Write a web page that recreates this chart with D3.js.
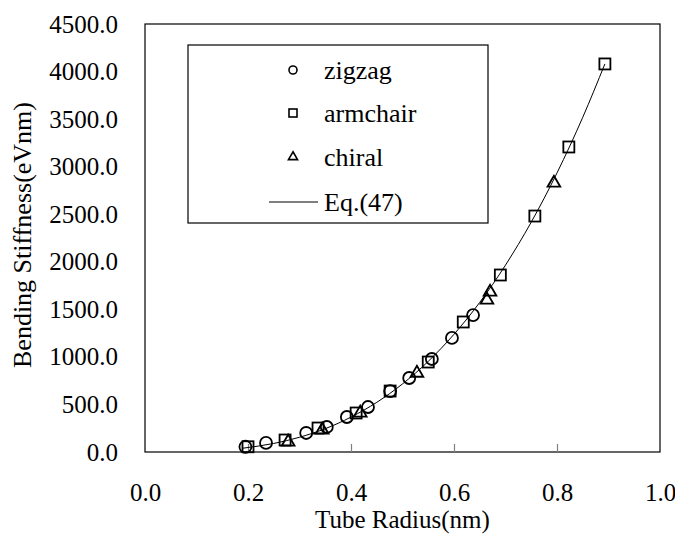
<!DOCTYPE html>
<html>
<head>
<meta charset="utf-8">
<script src="https://cdn.jsdelivr.net/npm/d3@7"></script>
<style>
  body { margin: 0; background: #fff; }
  svg text { font-family: "Liberation Serif", "Times New Roman", Times, "DejaVu Serif", serif; fill: #000; }
</style>
</head>
<body>
<div id="plot"></div>
<script>
// Data
var zigzagRadius = [0.195, 0.235, 0.313, 0.353, 0.392, 0.433, 0.476, 0.513, 0.557, 0.596, 0.637];
var zigzagStiffness = [55, 95, 200, 263, 368, 473, 641, 778, 978, 1199, 1440];

var armchairRadius = [0.200, 0.272, 0.336, 0.410, 0.476, 0.550, 0.618, 0.690, 0.757, 0.823, 0.893];
var armchairStiffness = [55, 126, 252, 410, 641, 946, 1367, 1861, 2481, 3207, 4080];

var chiralRadius = [0.278, 0.344, 0.418, 0.528, 0.664, 0.670, 0.794];
var chiralStiffness = [105, 231, 410, 830, 1598, 1682, 2828];

// Eq.(47) curve, sampled from the drawn line
var eqRadius = [0.19, 0.25, 0.30, 0.35, 0.40, 0.45, 0.50, 0.55, 0.60, 0.65, 0.70, 0.75, 0.80, 0.85, 0.893];
var eqStiffness = [40, 90, 155, 245, 367, 522, 716, 953, 1238, 1573, 1965, 2417, 2934, 3519, 4080];

var xTicks = [0.0, 0.2, 0.4, 0.6, 0.8, 1.0];
var yTicks = [0, 500, 1000, 1500, 2000, 2500, 3000, 3500, 4000, 4500];

var seriesNames = ["zigzag", "armchair", "chiral", "Eq.(47)"];

var serif = "Liberation Serif, Times New Roman, Times, DejaVu Serif, serif";

// SVG area
var svgWidth = 675;
var svgHeight = 534;

var margin = { top: 24, right: 15, bottom: 82, left: 145 };
var chartWidth = svgWidth - margin.left - margin.right;
var chartHeight = svgHeight - margin.top - margin.bottom;

var svg = d3.select("#plot")
  .append("svg")
  .attr("width", svgWidth)
  .attr("height", svgHeight)
  .attr("font-family", serif);

var chartGroup = svg.append("g")
  .attr("transform", `translate(${margin.left}, ${margin.top})`);

var xScale = d3.scaleLinear().domain([0, 1]).range([0, chartWidth]);
var yScale = d3.scaleLinear().domain([0, 4500]).range([chartHeight, 0]);

// plot frame
chartGroup.append("rect")
  .attr("x", 0).attr("y", 0)
  .attr("width", chartWidth).attr("height", chartHeight)
  .attr("fill", "none")
  .attr("stroke", "#000")
  .attr("stroke-width", 1.2);

// x axis: inward gray ticks, labels below
var bottomAxis = d3.axisBottom(xScale)
  .tickValues(xTicks)
  .tickSize(-8)
  .tickPadding(31)
  .tickFormat(d3.format(".1f"));

var xAxisG = chartGroup.append("g")
  .attr("transform", `translate(0, ${chartHeight})`)
  .call(bottomAxis)
  .attr("font-family", serif);
xAxisG.select(".domain").remove();
xAxisG.selectAll(".tick line").attr("stroke", "#808080").attr("stroke-width", 1.2)
  .filter(d => d === 0 || d === 1).remove();
xAxisG.selectAll(".tick text")
  .attr("font-family", serif)
  .attr("font-size", 25);

// y axis: labels only
var leftAxis = d3.axisLeft(yScale)
  .tickValues(yTicks)
  .tickSize(0)
  .tickPadding(27)
  .tickFormat(d3.format(".1f"));

var yAxisG = chartGroup.append("g").call(leftAxis)
  .attr("font-family", serif);
yAxisG.select(".domain").remove();
yAxisG.selectAll(".tick text")
  .attr("font-family", serif)
  .attr("font-size", 25);

// axis titles
svg.append("text")
  .attr("x", margin.left + chartWidth / 2)
  .attr("y", 528)
  .attr("text-anchor", "middle")
  .attr("font-size", 25)
  .text("Tube Radius(nm)");

svg.append("text")
  .attr("transform", `translate(31, 235) rotate(-90)`)
  .attr("text-anchor", "middle")
  .attr("font-size", 26)
  .text("Bending Stiffness(eVnm)");

// Eq.(47) line
var line = d3.line()
  .x(d => xScale(d[0]))
  .y(d => yScale(d[1]))
  .curve(d3.curveMonotoneX);

chartGroup.append("path")
  .datum(eqRadius.map((r, i) => [r, eqStiffness[i]]))
  .attr("d", line)
  .attr("fill", "none")
  .attr("stroke", "#000")
  .attr("stroke-width", 1);

// markers
var markerStroke = 1.8;

chartGroup.selectAll(".zigzag")
  .data(zigzagRadius.map((r, i) => [r, zigzagStiffness[i]]))
  .enter()
  .append("circle")
  .attr("class", "zigzag")
  .attr("cx", d => xScale(d[0]))
  .attr("cy", d => yScale(d[1]))
  .attr("r", 6)
  .attr("fill", "none")
  .attr("stroke", "#000")
  .attr("stroke-width", markerStroke);

chartGroup.selectAll(".armchair")
  .data(armchairRadius.map((r, i) => [r, armchairStiffness[i]]))
  .enter()
  .append("rect")
  .attr("class", "armchair")
  .attr("x", d => xScale(d[0]) - 5.5)
  .attr("y", d => yScale(d[1]) - 5.5)
  .attr("width", 11)
  .attr("height", 11)
  .attr("fill", "none")
  .attr("stroke", "#000")
  .attr("stroke-width", markerStroke);

var triangle = d3.symbol().type(d3.symbolTriangle).size(70);

chartGroup.selectAll(".chiral")
  .data(chiralRadius.map((r, i) => [r, chiralStiffness[i]]))
  .enter()
  .append("path")
  .attr("class", "chiral")
  .attr("d", triangle)
  .attr("transform", d => `translate(${xScale(d[0])}, ${yScale(d[1])})`)
  .attr("fill", "none")
  .attr("stroke", "#000")
  .attr("stroke-width", markerStroke);

// legend
var legend = svg.append("g");
legend.append("rect")
  .attr("x", 188).attr("y", 45)
  .attr("width", 300).attr("height", 178)
  .attr("fill", "#fff")
  .attr("stroke", "#000")
  .attr("stroke-width", 1.2);

var rowY = [70, 113, 157, 202];
var markX = 293;

legend.append("circle")
  .attr("cx", markX).attr("cy", rowY[0]).attr("r", 4)
  .attr("fill", "none").attr("stroke", "#000").attr("stroke-width", 1.6);
legend.append("rect")
  .attr("x", markX - 4).attr("y", rowY[1] - 4)
  .attr("width", 8).attr("height", 8)
  .attr("fill", "none").attr("stroke", "#000").attr("stroke-width", 1.6);
legend.append("path")
  .attr("d", d3.symbol().type(d3.symbolTriangle).size(36))
  .attr("transform", `translate(${markX}, ${rowY[2]})`)
  .attr("fill", "none").attr("stroke", "#000").attr("stroke-width", 1.6);
legend.append("line")
  .attr("x1", 269).attr("x2", 318)
  .attr("y1", rowY[3]).attr("y2", rowY[3])
  .attr("stroke", "#000").attr("stroke-width", 1);

legend.selectAll(".legend-label")
  .data(seriesNames)
  .enter()
  .append("text")
  .attr("class", "legend-label")
  .attr("x", 324)
  .attr("y", (d, i) => rowY[i])
  .attr("dy", "0.33em")
  .attr("font-size", 26)
  .text(d => d);
</script>
</body>
</html>
